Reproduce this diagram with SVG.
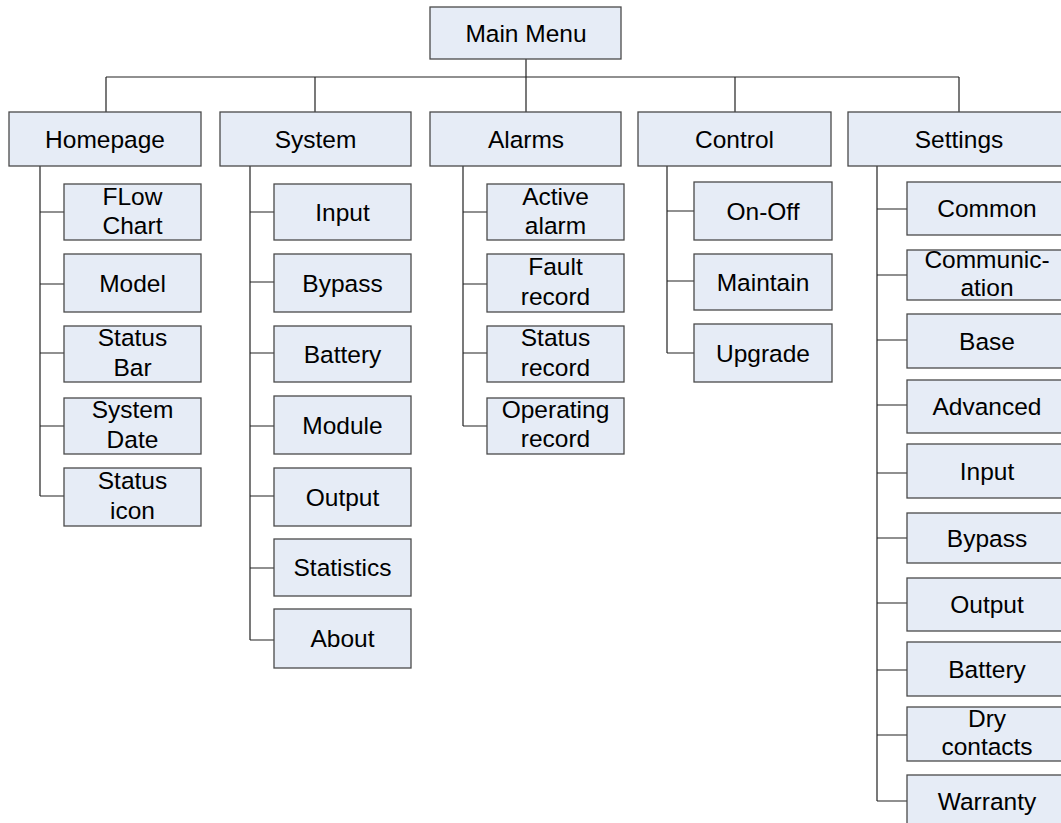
<svg xmlns="http://www.w3.org/2000/svg" width="1061" height="823" viewBox="0 0 1061 823">
<style>
rect{fill:#E6ECF6;stroke:#4a4a4a;stroke-width:1.3}
text{font-family:"Liberation Sans",Arial,sans-serif;font-size:24.5px;fill:#000;text-anchor:middle}
.c path{fill:none;stroke:#222;stroke-width:1.2}
</style>
<rect x="0" y="0" width="1061" height="823" style="fill:#fff;stroke:none"/>
<g class="c" id="connectors">
<path d="M526 59V112M106 77H959M106 77V112M315 77V112M735 77V112M959 77V112"/>
<path d="M40 166V496M40 212H64M40 284H64M40 353H64M40 426H64M40 496H64"/>
<path d="M250 166V640M250 212H274M250 282H274M250 353H274M250 426H274M250 496H274M250 568H274M250 640H274"/>
<path d="M463 166V426M463 212H487M463 284H487M463 353H487M463 426H487"/>
<path d="M667 166V353M667 211H694M667 281H694M667 353H694"/>
<path d="M877 166V801M877 209H907M877 275H907M877 340H907M877 405H907M877 473H907M877 538H907M877 603H907M877 670H907M877 735H907M877 801H907"/>
</g>
<g id="main"><rect x="430" y="7" width="191" height="52"/><text x="526" y="41.5">Main Menu</text></g>
<g id="homepage"><rect x="9" y="112" width="192" height="54"/><text x="105" y="147.5">Homepage</text></g>
<g id="system"><rect x="220" y="112" width="191" height="54"/><text x="315.5" y="147.5">System</text></g>
<g id="alarms"><rect x="430" y="112" width="191" height="54"/><text x="526" y="147.5">Alarms</text></g>
<g id="control"><rect x="638" y="112" width="193" height="54"/><text x="734.5" y="147.5">Control</text></g>
<g id="settings"><rect x="848" y="112" width="222" height="54"/><text x="959" y="147.5">Settings</text></g>

<g id="hp-flow"><rect x="64" y="184" width="137" height="56"/><text x="132.5" y="205">FLow</text><text x="132.5" y="234">Chart</text></g>
<g id="hp-model"><rect x="64" y="254" width="137" height="58"/><text x="132.5" y="291.5">Model</text></g>
<g id="hp-statusbar"><rect x="64" y="326" width="137" height="56"/><text x="132.5" y="346">Status</text><text x="132.5" y="376">Bar</text></g>
<g id="hp-date"><rect x="64" y="398" width="137" height="56"/><text x="132.5" y="418">System</text><text x="132.5" y="448">Date</text></g>
<g id="hp-icon"><rect x="64" y="468" width="137" height="58"/><text x="132.5" y="489">Status</text><text x="132.5" y="519">icon</text></g>

<g id="sys-input"><rect x="274" y="184" width="137" height="56"/><text x="342.5" y="220.5">Input</text></g>
<g id="sys-bypass"><rect x="274" y="254" width="137" height="58"/><text x="342.5" y="291.5">Bypass</text></g>
<g id="sys-battery"><rect x="274" y="326" width="137" height="56"/><text x="342.5" y="362.5">Battery</text></g>
<g id="sys-module"><rect x="274" y="396" width="137" height="58"/><text x="342.5" y="433.5">Module</text></g>
<g id="sys-output"><rect x="274" y="468" width="137" height="58"/><text x="342.5" y="505.5">Output</text></g>
<g id="sys-stats"><rect x="274" y="539" width="137" height="57"/><text x="342.5" y="576">Statistics</text></g>
<g id="sys-about"><rect x="274" y="609" width="137" height="59"/><text x="342.5" y="647">About</text></g>

<g id="al-active"><rect x="487" y="184" width="137" height="56"/><text x="555.5" y="205">Active</text><text x="555.5" y="234">alarm</text></g>
<g id="al-fault"><rect x="487" y="254" width="137" height="58"/><text x="555.5" y="275">Fault</text><text x="555.5" y="305">record</text></g>
<g id="al-status"><rect x="487" y="326" width="137" height="56"/><text x="555.5" y="346">Status</text><text x="555.5" y="376">record</text></g>
<g id="al-operating"><rect x="487" y="398" width="137" height="56"/><text x="555.5" y="418">Operating</text><text x="555.5" y="447">record</text></g>

<g id="ct-onoff"><rect x="694" y="182" width="138" height="58"/><text x="763" y="219.5">On-Off</text></g>
<g id="ct-maintain"><rect x="694" y="254" width="138" height="56"/><text x="763" y="290.5">Maintain</text></g>
<g id="ct-upgrade"><rect x="694" y="324" width="138" height="58"/><text x="763" y="361.5">Upgrade</text></g>

<g id="st-common"><rect x="907" y="182" width="160" height="53"/><text x="987" y="217">Common</text></g>
<g id="st-comm"><rect x="907" y="250" width="160" height="50"/><text x="987" y="268">Communic-</text><text x="987" y="296">ation</text></g>
<g id="st-base"><rect x="907" y="314" width="160" height="54"/><text x="987" y="349.5">Base</text></g>
<g id="st-advanced"><rect x="907" y="380" width="160" height="53"/><text x="987" y="415">Advanced</text></g>
<g id="st-input"><rect x="907" y="444" width="160" height="54"/><text x="987" y="479.5">Input</text></g>
<g id="st-bypass"><rect x="907" y="513" width="160" height="50"/><text x="987" y="546.5">Bypass</text></g>
<g id="st-output"><rect x="907" y="578" width="160" height="53"/><text x="987" y="613">Output</text></g>
<g id="st-battery"><rect x="907" y="642" width="160" height="54"/><text x="987" y="677.5">Battery</text></g>
<g id="st-dry"><rect x="907" y="707" width="160" height="54"/><text x="987" y="727">Dry</text><text x="987" y="755">contacts</text></g>
<g id="st-warranty"><rect x="907" y="775" width="160" height="56"/><text x="987" y="810">Warranty</text></g>
</svg>
